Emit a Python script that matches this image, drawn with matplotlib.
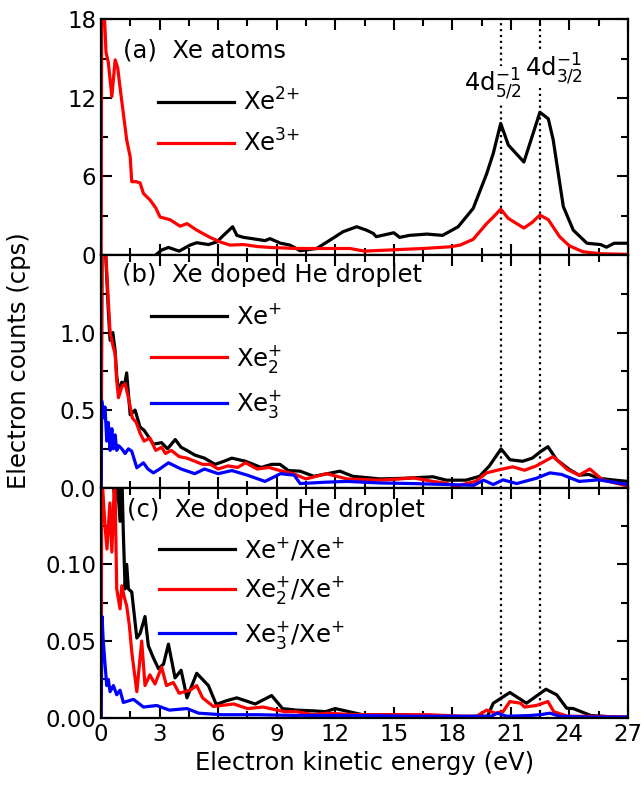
import matplotlib
matplotlib.use('Agg')
import matplotlib.pyplot as plt
from matplotlib.ticker import MultipleLocator

plt.rcParams['font.family'] = ['DejaVu Sans']
plt.rcParams['mathtext.fontset'] = 'dejavusans'

# panel (a): Xe atoms
e_a2 = [2.8, 3.1, 3.45, 4.0, 4.56, 4.9, 5.5, 5.93, 6.27, 6.74, 6.96, 7.3, 7.97, 8.4, 8.66, 9.2, 9.68,
        10.2, 11.05, 11.73, 12.4, 13.1, 13.6, 13.95, 14.1, 15.0, 15.3, 15.8, 16.7, 17.5, 18.3, 19.07,
        19.76, 20.1, 20.48, 20.87, 21.67, 22.49, 22.92, 23.17, 23.69, 24.2, 24.9, 25.6, 25.9, 26.3, 27.0]
xe2 = [0.0, 0.38, 0.58, 0.3, 0.76, 0.94, 0.8, 1.0, 1.5, 2.16, 1.5, 1.35, 1.2, 1.1, 1.25, 0.9, 0.76,
       0.33, 0.5, 1.14, 1.78, 2.16, 1.9, 1.65, 1.4, 1.7, 1.35, 1.5, 1.6, 1.5, 2.16, 3.56,
       6.2, 7.76, 10.05, 8.4, 7.1, 10.9, 10.4, 8.8, 3.7, 1.9, 0.9, 0.8, 0.6, 0.9, 0.9]
e_a3 = [0.0, 0.03, 0.15, 0.25, 0.37, 0.55, 0.72, 0.85, 0.97, 1.14, 1.31, 1.49, 1.57, 1.8, 2.0, 2.17,
        2.51, 2.8, 3.02, 3.53, 4.05, 4.4, 4.9, 5.58, 6.1, 6.6, 7.3, 8.0, 8.66, 10.0, 11.5, 12.75, 13.5,
        15.0, 16.5, 17.9, 18.4, 19.07, 19.76, 20.1, 20.48, 20.87, 21.3, 21.67, 22.1, 22.49, 22.92,
        23.5, 24.0, 24.7, 25.6, 27.0]
xe3 = [0, 19, 19, 15.5, 14.7, 12.1, 14.9, 14.3, 12.8, 10.8, 8.8, 7.5, 5.6, 5.6, 5.5, 4.7,
       4.2, 3.6, 2.9, 2.7, 2.2, 2.4, 1.9, 1.35, 1.0, 0.76, 0.8, 0.65, 0.58, 0.5, 0.5, 0.5, 0.3,
       0.4, 0.5, 0.63, 0.76, 1.2, 2.4, 2.9, 3.5, 2.8, 2.4, 2.06, 2.5, 3.05, 2.7,
       1.4, 0.7, 0.25, 0.1, 0.05]

# panel (b): Xe doped He droplet
e_b1 = [0, 0.05, 0.2, 0.37, 0.46, 0.6, 0.72, 0.8, 0.9, 1.06, 1.2, 1.31, 1.49, 1.74, 2.0, 2.2, 2.42,
        2.68, 3.1, 3.4, 3.8, 4.1, 4.4, 4.8, 5.3, 5.84, 6.3, 6.7, 7.4, 8.2, 8.74, 9.17, 9.6, 10.2, 10.9,
        11.6, 12.24, 12.9, 14.3, 15.5, 16.3, 17.0, 17.7, 18.7, 19.4, 19.9, 20.5, 20.95, 21.6, 22.1,
        22.5, 22.9, 23.35, 24.0, 24.5, 25.0, 25.5, 26.2, 27]
xe1_b = [0, 1.6, 1.6, 1.14, 0.95, 1.0, 0.88, 0.72, 0.62, 0.68, 0.66, 0.74, 0.47, 0.50, 0.39, 0.37, 0.33,
         0.28, 0.29, 0.25, 0.31, 0.26, 0.24, 0.21, 0.19, 0.15, 0.17, 0.19, 0.17, 0.13, 0.15, 0.15, 0.11,
         0.106, 0.073, 0.09, 0.106, 0.073, 0.056, 0.06, 0.065, 0.07, 0.048, 0.048, 0.073, 0.14, 0.25,
         0.18, 0.17, 0.19, 0.23, 0.264, 0.18, 0.117, 0.08, 0.085, 0.06, 0.05, 0.04]
e_b2 = [0, 0.03, 0.2, 0.35, 0.46, 0.6, 0.72, 0.8, 0.89, 1.06, 1.23, 1.4, 1.6, 1.8, 2.0, 2.2, 2.5, 2.8,
        3.1, 3.3, 3.6, 4.0, 4.4, 4.8, 5.2, 5.6, 6.0, 6.5, 7.0, 7.4, 8.0, 8.6, 9.17, 9.85, 10.5, 11.56,
        12.6, 14.3, 15.2, 16.0, 17.0, 17.6, 18.2, 19.2, 19.76, 20.46, 21.1, 21.7, 22.3, 23.17, 23.9,
        24.5, 25.05, 25.7, 27]
xe2_b = [0, 1.6, 1.6, 1.25, 1.0, 0.92, 0.86, 0.69, 0.58, 0.65, 0.67, 0.58, 0.45, 0.42, 0.35, 0.30, 0.32,
         0.24, 0.26, 0.22, 0.24, 0.20, 0.19, 0.17, 0.15, 0.15, 0.12, 0.14, 0.13, 0.16, 0.12, 0.13, 0.11,
         0.09, 0.056, 0.09, 0.056, 0.048, 0.055, 0.063, 0.04, 0.03, 0.01, 0.04, 0.095, 0.117, 0.134,
         0.112, 0.14, 0.2, 0.117, 0.08, 0.12, 0.05, 0.01]
e_b3 = [0, 0.03, 0.12, 0.2, 0.29, 0.37, 0.46, 0.55, 0.63, 0.72, 0.8, 0.9, 1.06, 1.23, 1.4, 1.57, 1.83,
        2.17, 2.4, 2.68, 3.0, 3.45, 4.1, 4.8, 5.3, 6.0, 6.7, 7.5, 8.4, 9.2, 9.9, 10.2, 11.5, 12.6, 14.3,
        16.0, 17.7, 19.1, 19.6, 20.1, 20.6, 21.3, 22.3, 23.0, 23.6, 24.5, 25.5, 27]
xe3_b = [0, 0.56, 0.45, 0.52, 0.30, 0.42, 0.24, 0.38, 0.25, 0.34, 0.24, 0.27, 0.25, 0.22, 0.25, 0.235,
         0.128, 0.16, 0.12, 0.095, 0.12, 0.16, 0.12, 0.09, 0.12, 0.09, 0.11, 0.08, 0.04, 0.09, 0.08,
         0.026, 0.035, 0.04, 0.03, 0.026, 0.02, 0.015, 0.048, 0.02, 0.05, 0.026, 0.06, 0.095, 0.085,
         0.04, 0.05, 0.02]

# panel (c): ratios to Xe+
e_c1 = [0.3, 0.55, 0.72, 0.8, 0.97, 1.06, 1.14, 1.23, 1.31, 1.4, 1.57, 1.83, 2.0, 2.25, 2.42, 2.68,
        2.94, 3.2, 3.45, 3.79, 4.1, 4.4, 4.9, 5.5, 5.9, 6.4, 6.95, 7.9, 8.74, 9.3, 10.0, 10.9, 11.5,
        12.0, 13.4, 14.3, 15.5, 16.9, 18.6, 19.8, 20.1, 20.95, 21.5, 21.8, 22.8, 23.35, 23.86, 24.2,
        25.1, 27]
r1 = [0.16, 0.16, 0.141, 0.16, 0.128, 0.16, 0.12, 0.084, 0.10, 0.084, 0.082, 0.052, 0.055, 0.066,
      0.047, 0.039, 0.032, 0.035, 0.048, 0.026, 0.031, 0.013, 0.029, 0.021, 0.0087, 0.011, 0.013, 0.009,
      0.0145, 0.006, 0.005, 0.0045, 0.004, 0.006, 0.002, 0.002, 0.002, 0.001, 0.0008, 0.001, 0.0095,
      0.0165, 0.012, 0.0095, 0.0186, 0.015, 0.0063, 0.006, 0.0015, 0.0]
e_c2 = [0, 0.03, 0.2, 0.3, 0.45, 0.55, 0.7, 0.8, 0.97, 1.06, 1.2, 1.31, 1.45, 1.57, 1.7, 1.83, 2.08,
        2.25, 2.5, 2.76, 3.1, 3.35, 3.7, 4.0, 4.56, 4.9, 5.2, 5.75, 6.8, 7.5, 8.3, 9.4, 10.0, 10.9, 11.6,
        13.0, 14.5, 16.8, 18.5, 19.25, 19.76, 20.2, 20.6, 20.95, 21.5, 21.7, 22.3, 22.9, 23.2, 23.9,
        25.0, 27]
r2 = [0, 0.16, 0.125, 0.11, 0.14, 0.108, 0.16, 0.084, 0.071, 0.086, 0.078, 0.073, 0.06, 0.043, 0.03,
      0.017, 0.05, 0.021, 0.028, 0.022, 0.033, 0.021, 0.023, 0.016, 0.018, 0.021, 0.013, 0.0074, 0.009,
      0.006, 0.007, 0.004, 0.004, 0.002, 0.003, 0.002, 0.002, 0.002, 0.001, 0.001, 0.005, 0.003, 0.004,
      0.0106, 0.0095, 0.007, 0.008, 0.0106, 0.004, 0.001, 0.001, 0.0005]
e_c3 = [0, 0.05, 0.1, 0.2, 0.29, 0.37, 0.46, 0.63, 0.8, 0.97, 1.14, 1.4, 1.66, 2.17, 2.85, 3.5, 4.4,
        5.0, 6.2, 8.0, 10.0, 13.0, 16.0, 19.0, 20.0, 20.3, 20.8, 22.0, 22.5, 23.0, 23.5, 25.0, 27]
r3 = [0, 0.066, 0.052, 0.035, 0.021, 0.025, 0.017, 0.021, 0.015, 0.018, 0.01, 0.011, 0.012, 0.007,
      0.008, 0.005, 0.006, 0.003, 0.002, 0.002, 0.0015, 0.0015, 0.001, 0.001, 0.001, 0.003, 0.001,
      0.0015, 0.002, 0.003, 0.001, 0.0005, 0.0005]

peaks = [20.5, 22.5]

fig = plt.figure(figsize=(6.44, 8.02), dpi=100)
left, width = 0.157, 0.818
ax_a = fig.add_axes([left, 0.682, width, 0.294])
ax_b = fig.add_axes([left, 0.392, width, 0.290], sharex=ax_a)
ax_c = fig.add_axes([left, 0.105, width, 0.287], sharex=ax_a)

lw = 2.3
ax_a.plot(e_a2, xe2, color='black', lw=lw, label=r'Xe$^{2{+}}$')
ax_a.plot(e_a3, xe3, color='red', lw=lw, label=r'Xe$^{3{+}}$')
ax_b.plot(e_b1, xe1_b, color='black', lw=lw, label=r'Xe$^{+}$')
ax_b.plot(e_b2, xe2_b, color='red', lw=lw, label=r'Xe$_{2}^{+}$')
ax_b.plot(e_b3, xe3_b, color='blue', lw=lw, label=r'Xe$_{3}^{+}$')
ax_c.plot(e_c1, r1, color='black', lw=lw, label=r'Xe$^{+}$/Xe$^{+}$')
ax_c.plot(e_c2, r2, color='red', lw=lw, label=r'Xe$_{2}^{+}$/Xe$^{+}$')
ax_c.plot(e_c3, r3, color='blue', lw=lw, label=r'Xe$_{3}^{+}$/Xe$^{+}$')

for ax in (ax_a, ax_b, ax_c):
    for p in peaks:
        ax.axvline(p, color='black', ls=':', lw=1.6, zorder=1)
    ax.set_xlim(0, 27)
    ax.xaxis.set_major_locator(MultipleLocator(3))
    ax.xaxis.set_minor_locator(MultipleLocator(1.5))
    ax.tick_params(which='both', direction='in', top=True, right=True, labelsize=16.5, width=1.5)
    ax.tick_params(which='major', length=8)
    ax.tick_params(which='minor', length=5)
    for s in ax.spines.values():
        s.set_linewidth(1.6)

ax_a.set_ylim(0, 18)
ax_a.set_yticks([0, 6, 12, 18])
ax_a.yaxis.set_minor_locator(MultipleLocator(3))
ax_b.set_ylim(0, 1.5)
ax_b.set_yticks([0.0, 0.5, 1.0])
ax_b.set_yticklabels(['0.0', '0.5', '1.0'])
ax_b.yaxis.set_minor_locator(MultipleLocator(0.25))
ax_c.set_ylim(0, 0.15)
ax_c.set_yticks([0.0, 0.05, 0.10])
ax_c.set_yticklabels(['0.00', '0.05', '0.10'])
ax_c.yaxis.set_minor_locator(MultipleLocator(0.025))

ax_a.tick_params(labelbottom=False)
ax_b.tick_params(labelbottom=False)

fs = 17.5
ax_a.text(0.042, 0.869, '(a)  Xe atoms', transform=ax_a.transAxes, fontsize=fs, va='center')
ax_b.text(0.040, 0.914, '(b)  Xe doped He droplet', transform=ax_b.transAxes, fontsize=fs, va='center')
ax_c.text(0.049, 0.904, '(c)  Xe doped He droplet', transform=ax_c.transAxes, fontsize=fs, va='center')

box = dict(facecolor='white', edgecolor='none', pad=1)
ax_a.text(20.1, 13.0, r'4d$_{5/2}^{-1}$', fontsize=fs, ha='center', va='center', bbox=box, zorder=3)
ax_a.text(23.2, 14.2, r'4d$_{3/2}^{-1}$', fontsize=fs, ha='center', va='center', bbox=box, zorder=3)

leg_kw = dict(frameon=False, fontsize=fs, handlelength=3.1, handletextpad=0.4, borderaxespad=0)
ax_a.legend(loc='upper left', bbox_to_anchor=(0.09, 0.75), labelspacing=0.6, **leg_kw)
ax_b.legend(loc='upper left', bbox_to_anchor=(0.077, 0.83), labelspacing=0.55, **leg_kw)
ax_c.legend(loc='upper left', bbox_to_anchor=(0.092, 0.835), labelspacing=0.5, **leg_kw)

ax_c.set_xlabel('Electron kinetic energy (eV)', fontsize=fs)
fig.text(0.03, 0.55, 'Electron counts (cps)', rotation=90, fontsize=fs, va='center', ha='center')

fig.savefig('out.png', dpi=100)
